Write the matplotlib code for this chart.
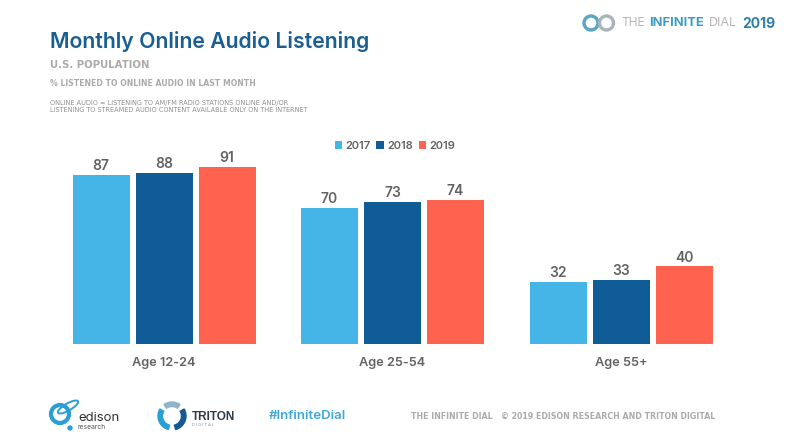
import matplotlib
matplotlib.use("Agg")
import matplotlib.pyplot as plt
import numpy as np
from matplotlib.patches import Ellipse, Wedge, Circle

categories = ["Age 12-24", "Age 25-54", "Age 55+"]
series_names = ["2017", "2018", "2019"]
v2017 = [87, 70, 32]
v2018 = [88, 73, 33]
v2019 = [91, 74, 40]
colors = ["#45B4E7", "#0F5C96", "#FF6350"]

W, H = 800, 444
plt.rcParams['font.family'] = ['Inter', 'DejaVu Sans']
fig = plt.figure(figsize=(8, 4.44), dpi=100, facecolor="white")

# overlay in pixel coordinates for text and logos
ov = fig.add_axes([0, 0, 1, 1])
ov.set_xlim(0, W); ov.set_ylim(H, 0); ov.axis("off")

# chart axes
left, right, top, bottom = 45, 740, 150, 344
ax = fig.add_axes([left / W, 1 - bottom / H, (right - left) / W, (bottom - top) / H])
ax.patch.set_alpha(0)
pitch = 228.5
ax.set_xlim((left - 164) / pitch, (right - 164) / pitch)
ax.set_ylim(0, (bottom - top) / 1.945)
x = np.arange(len(categories))
off = 63 / pitch
bw = 57 / pitch
for i, (vals, c, n) in enumerate(zip([v2017, v2018, v2019], colors, series_names)):
    b = ax.bar(x + (i - 1) * off, vals, bw, color=c, label=n)
    ax.bar_label(b, padding=1.2, fontsize=10, color="#636363", fontweight=600)
for s in ax.spines.values():
    s.set_visible(False)
ax.set_yticks([])
ax.set_xticks(x, categories)
ax.tick_params(axis="x", length=0, pad=9.5, labelsize=9.2, labelcolor="#636363")
for t in ax.get_xticklabels():
    t.set_fontweight(600)
leg = ax.legend(loc="center", bbox_to_anchor=(0.5036, 1.022), ncol=3, frameon=False,
                handlelength=0.7, handleheight=0.7, handletextpad=0.3,
                columnspacing=0.48, labelcolor="#636363", prop={"size": 8, "weight": 600},
                borderpad=0)

# header text
ov.text(50, 41.5, "Monthly Online Audio Listening", fontsize=15.25, fontweight=600,
        color="#1A5E92", va="center", ha="left")
TRACK = ['DejaVu Sans']
ov.text(50, 65.5, "U.S. POPULATION", fontsize=7.3, fontweight="bold", color="#ABABAB",
        va="center", family=TRACK)
ov.text(50, 83, "% LISTENED TO ONLINE AUDIO IN LAST MONTH", fontsize=5.6, fontweight="bold",
        color="#ABABAB", va="center", family=TRACK)
ov.text(50, 103, "ONLINE AUDIO = LISTENING TO AM/FM RADIO STATIONS ONLINE AND/OR",
        fontsize=4.7, color="#8F8F8F", va="center", family=TRACK)
ov.text(50, 110, "LISTENING TO STREAMED AUDIO CONTENT AVAILABLE ONLY ON THE INTERNET",
        fontsize=4.7, color="#8F8F8F", va="center", family=TRACK)

# header logo
for cx, col in [(591, "#5AA5C6"), (606.5, "#A9B5BC")]:
    ov.add_patch(Circle((cx, 23), 7, fill=False, ec=col, lw=2.4))
ov.text(621, 23.5, "THE", fontsize=8.5, color="#B5B5B5", va="center")
ov.text(649, 23.5, "INFINITE", fontsize=9.3, color="#3E9CC4", va="center", fontweight="bold")
ov.text(709, 23.5, "DIAL", fontsize=9, color="#B5B5B5", va="center")
ov.text(742, 23.5, "2019", fontsize=10, color="#2F7FA8", va="center", fontweight="bold")

# footer logos
ov.add_patch(Circle((60, 414), 9, fill=False, ec="#2A9FD6", lw=3))
ov.add_patch(Ellipse((68, 407), 23, 7, angle=-30, fill=False, ec="#2A9FD6", lw=1.4))
ov.add_patch(Circle((70, 428), 2, color="#2A9FD6"))
ov.text(78, 418, "edison", fontsize=9.5, color="#333333", va="center")
ov.text(78, 427, "research", fontsize=4.8, color="#555555", va="center")
# y axis of the overlay is inverted, so wedge angles run clockwise on screen
for a1, a2, col in [(105, 210, "#2A9FD6"), (-30, 75, "#16588F"), (235, 305, "#8FB3C8")]:
    ov.add_patch(Wedge((172, 416), 14, a1, a2, width=4.5, color=col))
ov.text(192, 416.5, "TRITON", fontsize=8.5, fontweight="bold", color="#2E3B46", va="center",
        family=['Liberation Sans'])
ov.text(192, 424.5, "D I G I T A L", fontsize=2.8, color="#888888", va="center")
ov.text(269, 416, "#InfiniteDial", fontsize=9.5, fontweight=600, color="#3FA9D6", va="center")
ov.text(411, 416, "THE INFINITE DIAL   \u00a9 2019 EDISON RESEARCH AND TRITON DIGITAL",
        fontsize=5.65, fontweight="bold", color="#ABABAB", va="center", family=TRACK)

fig.savefig("out.png", dpi=100, facecolor="white")
